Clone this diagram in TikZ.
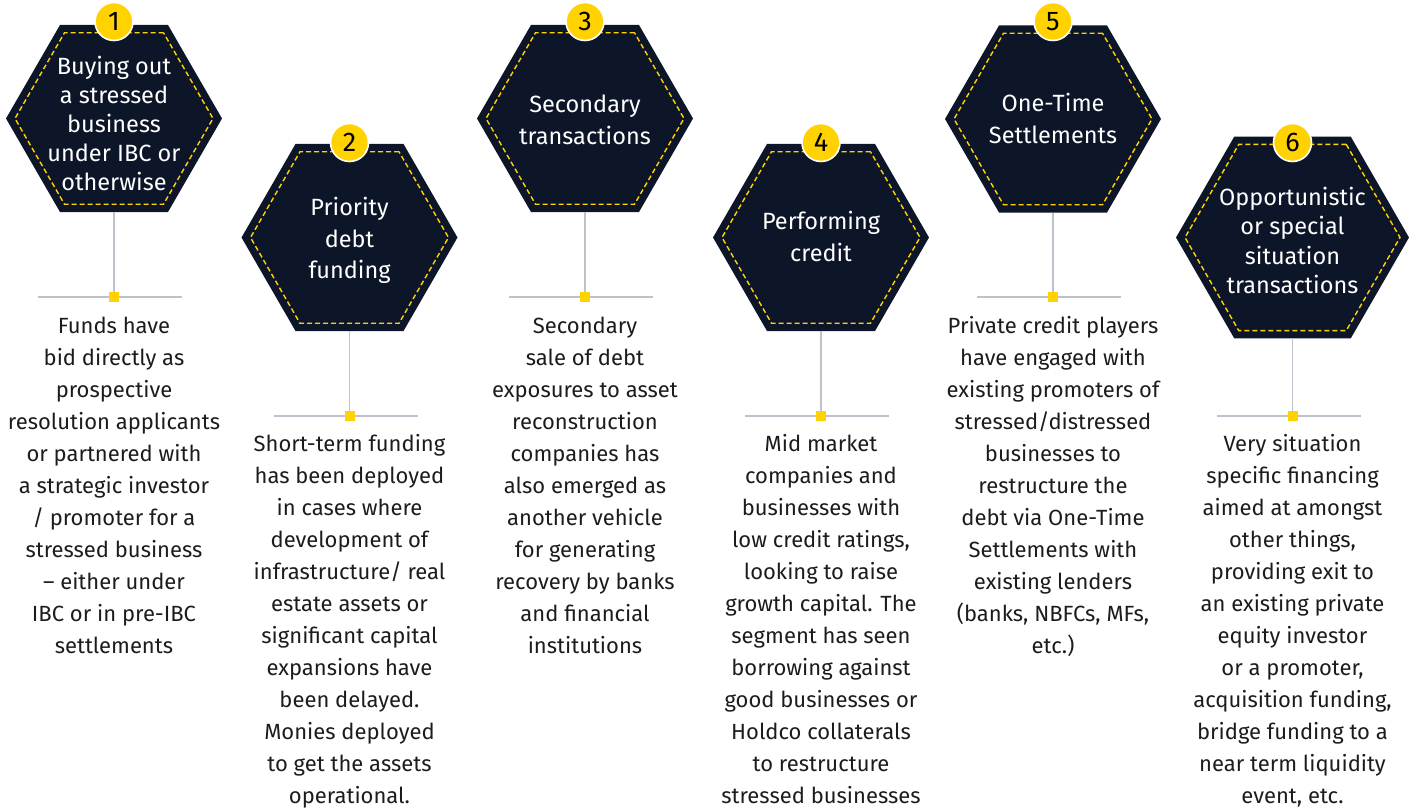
\documentclass[tikz,border=0pt]{standalone}
\usepackage{fontspec}
\setmainfont{Fira Sans}
\usetikzlibrary{shapes.geometric}
\definecolor{navy}{HTML}{0D1628}
\definecolor{eyy}{HTML}{FFD200}
\definecolor{lgray}{HTML}{BEC3CB}
\definecolor{txt}{HTML}{1C1C1C}
\newcommand{\ds}{\rule{0pt}{20pt}}
\newcommand{\ts}{\rule{0pt}{18pt}}
\begin{document}
\begin{tikzpicture}[x=1pt,y=-1pt,
 hexa/.style={regular polygon, regular polygon sides=6, fill=navy, inner sep=0pt, outer sep=0pt, minimum size=216pt},
 hexin/.style={regular polygon, regular polygon sides=6, draw=eyy, line width=1.4pt, dash pattern=on 5pt off 3pt, inner sep=0pt, outer sep=0pt, minimum size=198pt},
 numc/.style={circle, fill=eyy, draw=white, line width=1.6pt, minimum size=38pt, inner sep=0pt, font=\fontsize{27}{27}\selectfont, text=black},
 ttl/.style={anchor=north, align=center, text=white, inner sep=0pt},
 desc/.style={anchor=north, align=center, text=txt, inner sep=0pt, font=\fontsize{22}{32}\selectfont},
 stem/.style={draw=lgray, line width=1.3pt},
 sq/.style={fill=eyy, minimum size=10pt, inner sep=0pt, outer sep=0pt}]
\useasboundingbox (0,0) rectangle (1416,810);

% ---------- Hexagon 1 ----------
\node[hexa] (h1) at (114,118.5) {};
\node[hexin] (i1) at (114,118.5) {};
\node[ttl, font=\fontsize{23.5}{29}\selectfont] (t1) at (114,56) {\ts Buying out\\a stressed\\business\\under IBC or\\otherwise};
\node[numc] (n1) at (114,21.5) {1};
% ---------- Hexagon 2 ----------
\node[hexa] (h2) at (349.5,237.5) {};
\node[hexin] (i2) at (349.5,237.5) {};
\node[ttl, font=\fontsize{23.5}{31.5}\selectfont] (t2) at (349.5,197) {\ts Priority\\debt\\funding};
\node[numc] (n2) at (349.5,142.5) {2};
% ---------- Hexagon 3 ----------
\node[hexa] (h3) at (585,118.5) {};
\node[hexin] (i3) at (585,118.5) {};
\node[ttl, font=\fontsize{23.5}{32}\selectfont] (t3) at (585,94) {\ts Secondary\\transactions};
\node[numc] (n3) at (585,21.5) {3};
% ---------- Hexagon 4 ----------
\node[hexa] (h4) at (821,237.5) {};
\node[hexin] (i4) at (821,237.5) {};
\node[ttl, font=\fontsize{23.5}{32}\selectfont] (t4) at (821,211) {\ts Performing\\credit};
\node[numc] (n4) at (821,142.5) {4};
% ---------- Hexagon 5 ----------
\node[hexa] (h5) at (1053,119) {};
\node[hexin] (i5) at (1053,119) {};
\node[ttl, font=\fontsize{23.5}{32}\selectfont] (t5) at (1053,93) {\ts One-Time\\Settlements};
\node[numc] (n5) at (1053,21.5) {5};
% ---------- Hexagon 6 ----------
\node[hexa, minimum size=233pt] (h6) at (1292.5,237.5) {};
\node[hexin, minimum size=215pt] (i6) at (1292.5,237.5) {};
\node[ttl, font=\fontsize{23.5}{29.3}\selectfont] (t6) at (1292.5,187) {\ts Opportunistic\\or special\\situation\\transactions};
\node[numc] (n6) at (1292.5,142.5) {6};

% ---------- stems ----------
\foreach \k/\x/\y in {1/114/297, 2/349.5/416, 3/585/297, 4/821/416, 5/1053/297, 6/1292.5/416}{
  \coordinate (a\k) at (\x-76,\y);
  \coordinate (b\k) at (\x+68,\y);
  \draw[stem] (a\k) -- (b\k);
  \node[sq] (s\k) at (\x,\y) {};
  \draw[stem] (h\k.south) -- (s\k.north);
}

% ---------- descriptions ----------
\node[desc] (d1) at (114,313) {\ds Funds have\\bid directly as\\prospective\\resolution applicants\\or partnered with\\a strategic investor\\/ promoter for a\\stressed business\\– either under\\IBC or in pre-IBC\\settlements};
\node[desc] (d2) at (349.5,431) {\ds Short-term funding\\has been deployed\\in cases where\\development of\\infrastructure/ real\\estate assets or\\significant capital\\expansions have\\been delayed.\\Monies deployed\\to get the assets\\operational.};
\node[desc] (d3) at (585,313) {\ds Secondary\\sale of debt\\exposures to asset\\reconstruction\\companies has\\also emerged as\\another vehicle\\for generating\\recovery by banks\\and financial\\institutions};
\node[desc] (d4) at (821,431) {\ds Mid market\\companies and\\businesses with\\low credit ratings,\\looking to raise\\growth capital. The\\segment has seen\\borrowing against\\good businesses or\\Holdco collaterals\\to restructure\\stressed businesses};
\node[desc] (d5) at (1053,313) {\ds Private credit players\\have engaged with\\existing promoters of\\stressed/distressed\\businesses to\\restructure the\\debt via One-Time\\Settlements with\\existing lenders\\(banks, NBFCs, MFs,\\etc.)};
\node[desc] (d6) at (1292.5,431) {\ds Very situation\\specific financing\\aimed at amongst\\other things,\\providing exit to\\an existing private\\equity investor\\or a promoter,\\acquisition funding,\\bridge funding to a\\near term liquidity\\event, etc.};
\end{tikzpicture}
\end{document}
